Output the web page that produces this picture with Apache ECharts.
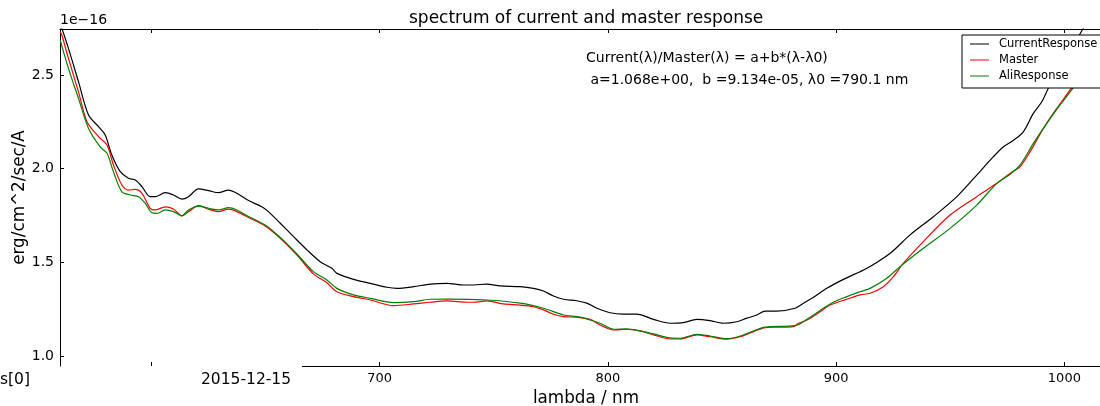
<!DOCTYPE html>
<html>
<head>
<meta charset="utf-8">
<script src="https://cdn.jsdelivr.net/npm/echarts@6/dist/echarts.min.js"></script>
<style>html,body{margin:0;padding:0;background:#fff}#c{width:1100px;height:406px}</style>
</head>
<body>
<div id="c"></div>
<script>
// wavelength (nm) and flux (units of 1e-16 erg/cm^2/sec/A)
const currentNm = [560.1, 560.8, 563.7, 568.1, 572.5, 576.9, 579.8, 582.7, 586.4, 590, 593, 595.9, 599.5, 601.7, 606.1, 609.7, 613.4, 616.3, 620.7, 625.1, 629.4, 633.8, 637.5, 642.6, 648.4, 651.3, 656.5, 662.3, 668.2, 674, 679.1, 681.3, 688.6, 695.9, 703.2, 707.6, 714.9, 722.2, 729.5, 736.8, 741.1, 747, 752.8, 761.6, 767.4, 771.8, 776.2, 780.6, 786.4, 790.8, 795.2, 801, 806.8, 812.7, 820, 827.3, 833.1, 839, 844.8, 850.6, 856.5, 860.9, 865.3, 868.9, 874, 882, 885.7, 890.1, 895.9, 903.2, 910.5, 914.9, 923.7, 932.4, 942.6, 952.9, 961.6, 968.9, 973.3, 977.7, 982, 986.4, 990.1, 993.7, 998.1, 1002.5, 1008.2, 1012];
const currentVal = [2.76, 2.748, 2.642, 2.464, 2.286, 2.224, 2.180, 2.073, 1.984, 1.949, 1.940, 1.904, 1.851, 1.851, 1.872, 1.860, 1.838, 1.851, 1.892, 1.883, 1.872, 1.886, 1.869, 1.830, 1.797, 1.771, 1.709, 1.638, 1.567, 1.504, 1.469, 1.442, 1.410, 1.389, 1.368, 1.362, 1.371, 1.385, 1.389, 1.380, 1.380, 1.385, 1.375, 1.371, 1.362, 1.348, 1.321, 1.304, 1.296, 1.283, 1.256, 1.232, 1.225, 1.225, 1.197, 1.176, 1.179, 1.197, 1.190, 1.176, 1.184, 1.203, 1.220, 1.241, 1.241, 1.256, 1.283, 1.314, 1.362, 1.410, 1.451, 1.478, 1.549, 1.647, 1.744, 1.851, 1.966, 2.064, 2.117, 2.152, 2.197, 2.295, 2.357, 2.446, 2.526, 2.622, 2.748, 2.82];

const masterNm = [560.1, 560.8, 563.7, 568.1, 571.8, 576.9, 580.6, 583.4, 587.1, 590, 593, 595.9, 599.5, 601.7, 606.1, 609.7, 613.4, 616.3, 620.7, 625.1, 629.4, 633.8, 637.5, 642.6, 649.9, 656.5, 663.8, 671, 676.9, 681.3, 688.6, 695.9, 706.1, 714.9, 722.2, 729.5, 736.8, 741.1, 747, 754.3, 761.6, 767.4, 771.8, 776.2, 780.6, 786.4, 792.2, 796.6, 802.5, 808.3, 814.1, 820, 827.3, 831.7, 839, 844.8, 852.1, 858, 863.8, 868.9, 874, 881.3, 883.5, 887.2, 891.5, 897.4, 904.7, 910.5, 914.9, 920.7, 925.1, 929.5, 938.2, 949.9, 961.6, 970.4, 976.2, 980.6, 985, 990.8, 996.7, 1002.5, 1009.1, 1015.6];
const masterVal = [2.73, 2.713, 2.588, 2.410, 2.251, 2.171, 2.126, 2.020, 1.913, 1.886, 1.890, 1.869, 1.789, 1.780, 1.797, 1.785, 1.749, 1.771, 1.803, 1.784, 1.771, 1.784, 1.771, 1.740, 1.695, 1.629, 1.540, 1.439, 1.392, 1.344, 1.318, 1.300, 1.270, 1.279, 1.288, 1.295, 1.289, 1.288, 1.295, 1.279, 1.273, 1.264, 1.247, 1.224, 1.211, 1.208, 1.197, 1.167, 1.140, 1.144, 1.135, 1.114, 1.092, 1.092, 1.114, 1.104, 1.091, 1.104, 1.131, 1.152, 1.155, 1.158, 1.176, 1.193, 1.225, 1.273, 1.304, 1.327, 1.336, 1.371, 1.424, 1.496, 1.611, 1.753, 1.851, 1.922, 1.975, 2.011, 2.091, 2.215, 2.322, 2.420, 2.536, 2.643];

const aliNm = [560.1, 563.7, 568.1, 572.5, 577.6, 580.6, 583.4, 587.1, 590.8, 594.4, 597.3, 600.3, 602.5, 606.1, 609.7, 613.4, 616.3, 620.7, 625.1, 629.4, 633.8, 637.5, 642.6, 649.9, 656.5, 663.8, 671, 676.9, 681.3, 688.6, 695.9, 706.1, 714.9, 722.2, 729.5, 747, 761.6, 771.8, 780.6, 787.9, 796.6, 802.5, 808.3, 814.1, 820, 827.3, 831.7, 839, 844.8, 852.1, 858, 868.9, 882, 887.2, 897.4, 904.7, 910.5, 914.9, 922.2, 928, 938.2, 949.9, 961.6, 970.4, 976.2, 980.6, 986.4, 992.3, 998.1, 1003.2, 1009.1, 1015.6];
const aliVal = [2.686, 2.535, 2.375, 2.215, 2.117, 2.082, 1.984, 1.877, 1.860, 1.851, 1.816, 1.765, 1.762, 1.780, 1.771, 1.749, 1.780, 1.801, 1.789, 1.780, 1.792, 1.780, 1.745, 1.700, 1.633, 1.545, 1.451, 1.407, 1.362, 1.327, 1.309, 1.286, 1.291, 1.304, 1.305, 1.300, 1.283, 1.256, 1.220, 1.209, 1.176, 1.144, 1.146, 1.135, 1.119, 1.098, 1.096, 1.117, 1.108, 1.094, 1.108, 1.155, 1.163, 1.197, 1.279, 1.318, 1.344, 1.362, 1.416, 1.478, 1.576, 1.682, 1.806, 1.922, 1.970, 2.020, 2.135, 2.242, 2.340, 2.420, 2.52, 2.62];

const seriesNames = ['CurrentResponse', 'Master', 'AliResponse'];
const seriesColors = ['#000000', '#ff0000', '#008000'];
const xRange = [560, 1015.6];
const yRange = [0.948, 2.745];

const titleText = 'spectrum of current and master response';
const yTitle = 'erg/cm^2/sec/A';
const xTitle = 'lambda / nm';
const scaleText = '1e\u221216';
const noteLine1 = 'Current(\u03bb)/Master(\u03bb) = a+b*(\u03bb-\u03bb0)';
const noteLine2 = ' a=1.068e+00,  b =9.134e-05, \u03bb0 =790.1 nm';
const strayLeft = 's[0]';
const strayDate = '2015-12-15';

function pairs(xs, ys) { return xs.map((x, i) => [x, ys[i]]); }
const seriesData = [pairs(currentNm, currentVal), pairs(masterNm, masterVal), pairs(aliNm, aliVal)];

const FONT = 'DejaVu Sans';
// thin horizontal line icon (corner specks keep the line at its natural height)
const LINE_ICON = 'path://M0,0H0.01V0.01H0Z M0,6.4H19V7.6H0Z M18.99,13.99H19V14H18.99Z';
const chart = echarts.init(document.getElementById('c'), null, {renderer: 'canvas'});

const axisBase = {
  type: 'value', min: xRange[0], max: xRange[1], splitNumber: 5,
  splitLine: {show: false},
  axisTick: {show: true, inside: true, length: 4, lineStyle: {color: '#000', width: 1}}
};

chart.setOption({
  animation: false,
  backgroundColor: '#fff',
  textStyle: {fontFamily: FONT},
  title: {
    text: titleText, left: 404, top: 5,
    textStyle: {fontFamily: FONT, fontSize: 17, fontWeight: 'normal', color: '#000'}
  },
  legend: {
    orient: 'vertical', left: 962, top: 35,
    padding: [2, 40, 5, 8], itemWidth: 19, itemHeight: 14, itemGap: 2,
    icon: LINE_ICON,
    borderColor: '#000', borderWidth: 1, borderRadius: 0, backgroundColor: '#fff',
    textStyle: {fontFamily: FONT, fontSize: 11.5, color: '#000', padding: [0, 0, 0, 5]},
    data: seriesNames
  },
  grid: {left: 60, right: 0, top: 29, bottom: 40, outerBoundsMode: 'none', containLabel: false},
  xAxis: [
    Object.assign({}, axisBase, {
      position: 'bottom',
      name: xTitle, nameLocation: 'middle', nameGap: 24, nameMoveOverlap: false,
      nameTextStyle: {fontFamily: FONT, fontSize: 16.8, color: '#000', padding: [0, 0, 0, 12]},
      axisLine: {show: false},
      axisLabel: {show: true, margin: 6, fontFamily: FONT, fontSize: 13, color: '#000',
        showMinLabel: false, showMaxLabel: false,
        formatter: v => (v >= 700 ? String(v) : '')}
    }),
    Object.assign({}, axisBase, {
      position: 'top',
      axisLine: {show: true, lineStyle: {color: '#000', width: 1}},
      axisLabel: {show: false}
    })
  ],
  yAxis: {
    type: 'value', min: yRange[0], max: yRange[1], splitNumber: 4,
    name: yTitle, nameLocation: 'middle', nameGap: 32, nameMoveOverlap: false,
    nameTextStyle: {fontFamily: FONT, fontSize: 16.8, color: '#000'},
    splitLine: {show: false},
    axisLine: {show: true, lineStyle: {color: '#000', width: 1}},
    axisTick: {show: true, inside: true, length: 4, lineStyle: {color: '#000'}},
    axisLabel: {margin: 6, fontFamily: FONT, fontSize: 14, color: '#000',
      showMinLabel: false, showMaxLabel: false,
      formatter: v => v.toFixed(1)}
  },
  series: seriesNames.map((n, i) => ({
    name: n, type: 'line', data: seriesData[i], xAxisIndex: 0,
    symbol: 'none', smooth: 0.3, clip: true,
    lineStyle: {color: seriesColors[i], width: 1.2},
    itemStyle: {color: seriesColors[i]}
  })),
  graphic: [
    {type: 'line', shape: {x1: 302, y1: 366.5, x2: 1100, y2: 366.5}, style: {stroke: '#000', lineWidth: 1}},
    {type: 'text', x: 60, y: 20, style: {text: scaleText, font: '14px "DejaVu Sans"', fill: '#000', textAlign: 'left', textVerticalAlign: 'middle'}},
    {type: 'text', x: 586, y: 58, style: {text: noteLine1, font: '14px "DejaVu Sans"', fill: '#000', textAlign: 'left', textVerticalAlign: 'middle'}},
    {type: 'text', x: 586, y: 80, style: {text: noteLine2, font: '14px "DejaVu Sans"', fill: '#000', textAlign: 'left', textVerticalAlign: 'middle'}},
    {type: 'text', x: 0, y: 380, style: {text: strayLeft, font: '15.5px "DejaVu Sans"', fill: '#000', textAlign: 'left', textVerticalAlign: 'middle'}},
    {type: 'text', x: 201, y: 380, style: {text: strayDate, font: '15.5px "DejaVu Sans"', fill: '#000', textAlign: 'left', textVerticalAlign: 'middle'}}
  ]
});
</script>
</body>
</html>
